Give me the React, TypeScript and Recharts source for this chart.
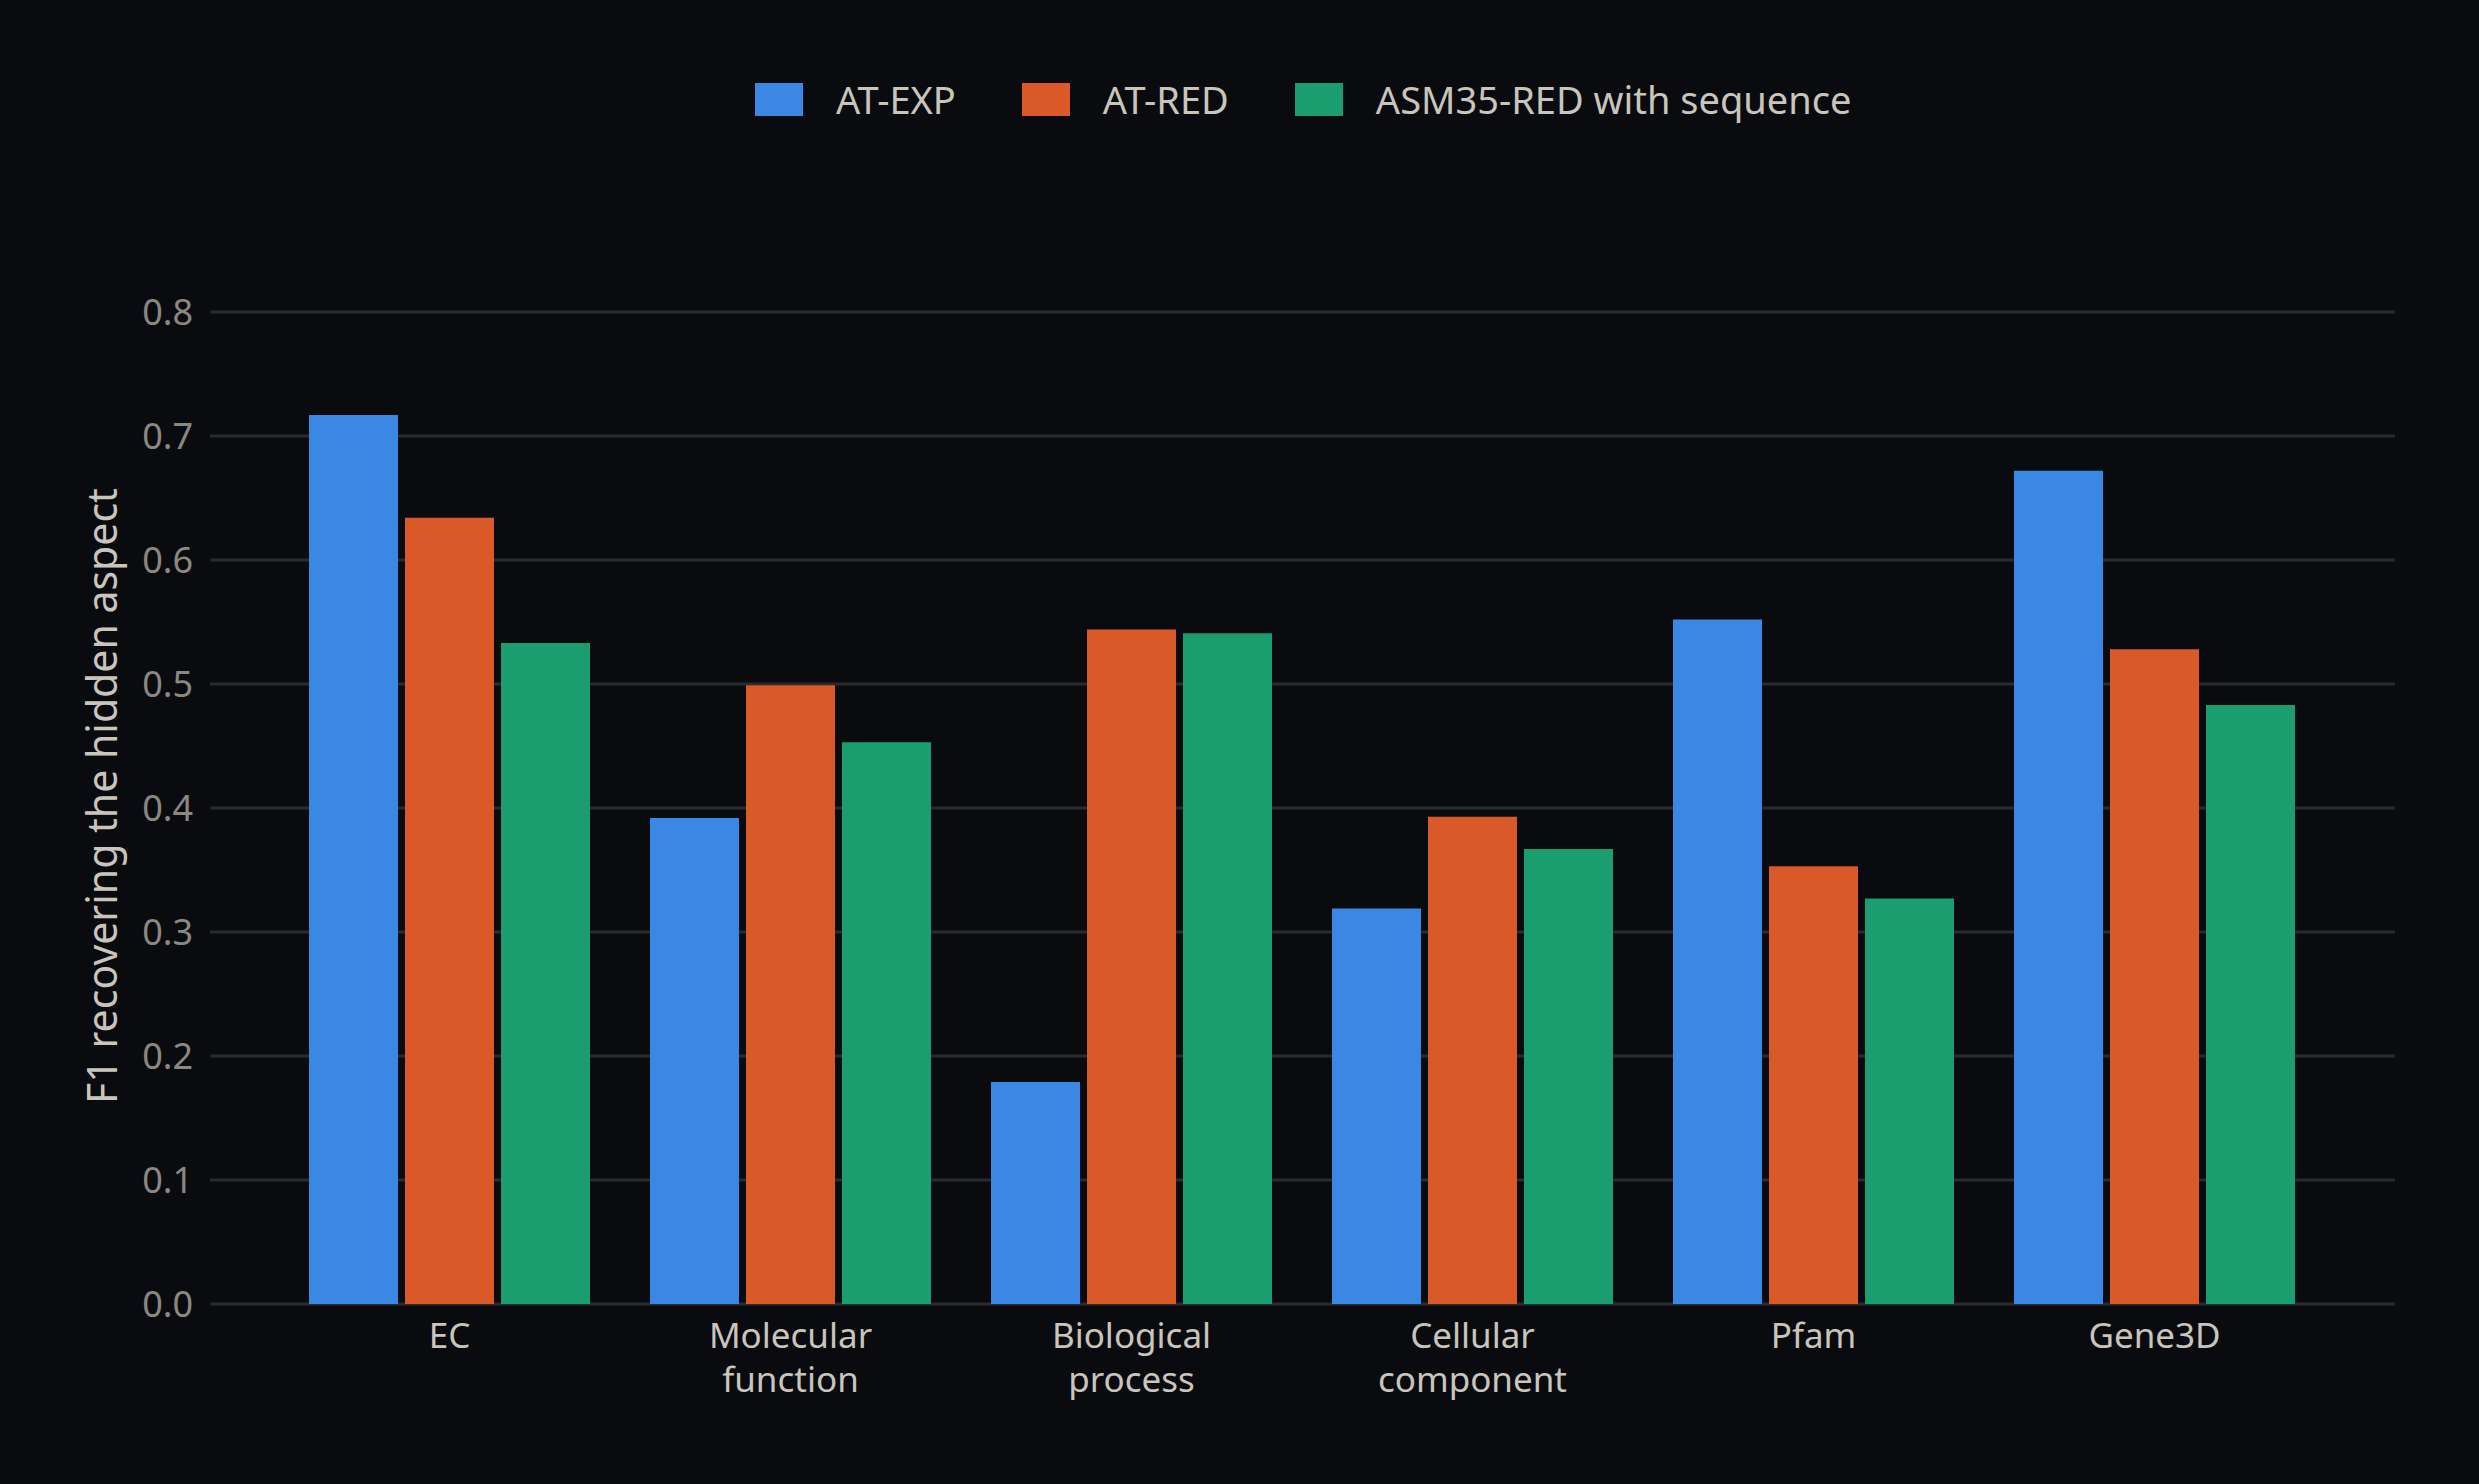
import React from "react";
import { BarChart, Bar, XAxis, YAxis, CartesianGrid } from "recharts";

const categories: string[][] = [
  ["EC"],
  ["Molecular", "function"],
  ["Biological", "process"],
  ["Cellular", "component"],
  ["Pfam"],
  ["Gene3D"],
];

const atExp = [0.717, 0.392, 0.179, 0.319, 0.552, 0.672];
const atRed = [0.634, 0.499, 0.544, 0.393, 0.353, 0.528];
const asm35Red = [0.533, 0.453, 0.541, 0.367, 0.327, 0.483];

const seriesNames = ["AT-EXP", "AT-RED", "ASM35-RED with sequence"];
const seriesKeys = ["atExp", "atRed", "asm35Red"];
const seriesColors = ["#3a88e4", "#d95a28", "#1a9e70"];

const yTicks = [0, 0.1, 0.2, 0.3, 0.4, 0.5, 0.6, 0.7, 0.8];

const data = categories.map((c, i) => ({
  name: c.join(" "),
  lines: c,
  atExp: atExp[i],
  atRed: atRed[i],
  asm35Red: asm35Red[i],
}));

const FONT = "'Noto Sans', 'Open Sans', sans-serif";
const BG = "#0a0b0f";

const CategoryTick = (props: any) => {
  const { x, y, payload } = props;
  const lines = payload.value.split(" ").length > 1 ? categories.find((c) => c.join(" ") === payload.value) || [payload.value] : [payload.value];
  return (
    <text x={x} y={y} textAnchor="middle" fill="#c9c5bd" fontSize={35} fontFamily={FONT}>
      {lines.map((l: string, i: number) => (
        <tspan key={i} x={x} y={y + 44 + i * 44}>
          {l}
        </tspan>
      ))}
    </text>
  );
};

export default function App() {
  return (
    <div
      style={{
        position: "absolute",
        left: 0,
        top: 0,
        width: 2479,
        height: 1484,
        background: BG,
        fontFamily: FONT,
      }}
    >
      <div
        style={{
          position: "absolute",
          top: 83,
          left: 755,
          display: "flex",
          alignItems: "center",
          height: 33,
          whiteSpace: "nowrap",
        }}
      >
        {seriesNames.map((n, i) => (
          <div key={n} style={{ display: "flex", alignItems: "center", marginRight: i < seriesNames.length - 1 ? 66 : 0 }}>
            <div style={{ width: 48, height: 33, background: seriesColors[i], marginRight: 33 }} />
            <span style={{ color: "#c9c5bd", fontSize: 38, lineHeight: "33px" }}>{n}</span>
          </div>
        ))}
      </div>
      <BarChart
        width={2479}
        height={1484}
        data={data}
        margin={{ top: 312, right: 84, bottom: 0, left: 0 }}
        barCategoryGap={30}
        barGap={7}
      >
        <CartesianGrid vertical={false} stroke="#2a2b31" strokeWidth={3} />
        <XAxis
          dataKey="name"
          axisLine={false}
          tickLine={false}
          tickSize={0}
          tickMargin={0}
          height={180}
          padding={{ left: 69, right: 70 }}
          interval={0}
          tick={<CategoryTick />}
        />
        <YAxis
          width={210}
          domain={[0, 0.8]}
          ticks={yTicks}
          axisLine={false}
          tickLine={false}
          tickSize={0}
          tickMargin={17}
          tickFormatter={(v: number) => v.toFixed(1)}
          tick={{ fill: "#8b8882", fontSize: 36, fontFamily: FONT }}
          label={{
            content: () => (
              <text
                x={117}
                y={796}
                transform="rotate(-90 117 796)"
                textAnchor="middle"
                fill="#c9c5bd"
                fontSize={41}
                fontFamily={FONT}
              >
                F1 recovering the hidden aspect
              </text>
            ),
          }}
        />
        {seriesKeys.map((k, i) => (
          <Bar key={k} dataKey={k} name={seriesNames[i]} fill={seriesColors[i]} isAnimationActive={false} />
        ))}
      </BarChart>
    </div>
  );
}
